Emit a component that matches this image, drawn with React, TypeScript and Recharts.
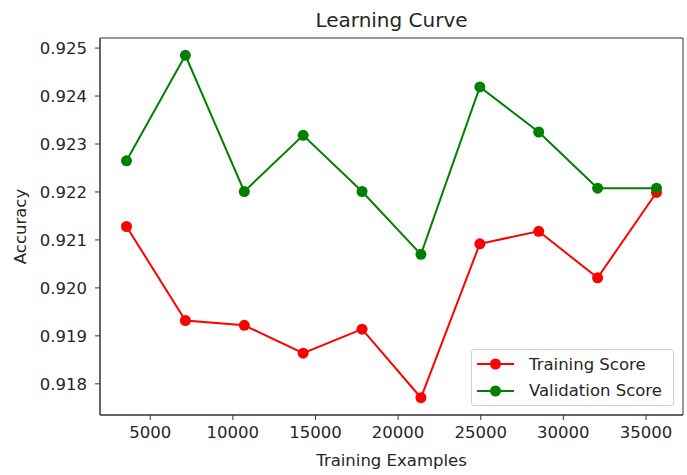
import React from "react";
import { LineChart, Line, XAxis, YAxis, Legend, ReferenceArea } from "recharts";

// training set sizes (learning_curve, 10 steps)
const trainSizes = [3564, 7127, 10691, 14254, 17818, 21381, 24945, 28508, 32072, 35635];
const trainScores = [0.92128, 0.91932, 0.91922, 0.91864, 0.91914, 0.91771, 0.92092, 0.92118, 0.92021, 0.92199];
const validScores = [0.92265, 0.92485, 0.92201, 0.92318, 0.92201, 0.9207, 0.92419, 0.92325, 0.92208, 0.92208];

const xTicks = [5000, 10000, 15000, 20000, 25000, 30000, 35000];
const yTicks = [0.918, 0.919, 0.92, 0.921, 0.922, 0.923, 0.924, 0.925];
const xDomain = [1960, 37239];
const yDomain = [0.91735, 0.92521];

const SERIES = [
  { key: "train", name: "Training Score", color: "#ff0000" },
  { key: "valid", name: "Validation Score", color: "#008000" },
];

const data = trainSizes.map((x, i) => ({ x, train: trainScores[i], valid: validScores[i] }));

const FONT = "'DejaVu Sans', sans-serif";
const TEXT = "#262626";
const AXIS = "#333";

function LegendBox() {
  return (
    <div
      style={{
        width: 203,
        height: 57,
        boxSizing: "border-box",
        border: "1px solid #d0d0d0",
        borderRadius: 3,
        background: "rgba(255,255,255,0.85)",
        padding: "1px 0 0 5px",
        fontFamily: FONT,
        fontSize: 16.5,
        color: TEXT,
      }}
    >
      {SERIES.map((s) => (
        <div key={s.key} style={{ display: "flex", alignItems: "center", height: 26.5 }}>
          <svg width={37} height={14} style={{ marginRight: 15 }}>
            <line x1={0} y1={7} x2={37} y2={7} stroke={s.color} strokeWidth={2} />
            <circle cx={18.5} cy={7} r={5.5} fill={s.color} />
          </svg>
          <span>{s.name}</span>
        </div>
      ))}
    </div>
  );
}

export default function App() {
  return (
    <div style={{ position: "absolute", left: 0, top: 0, width: 687, height: 475, background: "#fff" }}>
      <LineChart
        width={687}
        height={475}
        data={data}
        margin={{ top: 38, right: 4, bottom: 30, left: 10 }}
        style={{ fontFamily: FONT }}
      >
        <XAxis
          dataKey="x"
          type="number"
          domain={xDomain}
          ticks={xTicks}
          allowDataOverflow
          height={30}
          tickSize={5}
          tickMargin={6}
          stroke={AXIS}
          tick={{ fill: TEXT, fontSize: 16.5 }}
          label={{
            content: (p: any) => (
              <text
                x={p.viewBox.x + p.viewBox.width / 2}
                y={460}
                textAnchor="middle"
                dominantBaseline="central"
                fill={TEXT}
                fontSize={16.5}
              >
                Training Examples
              </text>
            ),
          }}
        />
        <YAxis
          type="number"
          domain={yDomain}
          ticks={yTicks}
          allowDataOverflow
          width={90}
          tickSize={5}
          tickMargin={8}
          stroke={AXIS}
          tick={{ fill: TEXT, fontSize: 16.5 }}
          tickFormatter={(v: number) => v.toFixed(3)}
          label={{
            content: (p: any) => {
              const cy = p.viewBox.y + p.viewBox.height / 2;
              return (
                <text
                  x={20}
                  y={cy}
                  transform={`rotate(-90 20 ${cy})`}
                  textAnchor="middle"
                  dominantBaseline="central"
                  fill={TEXT}
                  fontSize={16.5}
                >
                  Accuracy
                </text>
              );
            },
          }}
        />
        {/* axes frame (matplotlib spines) + title */}
        <ReferenceArea
          x1={xDomain[0]}
          x2={xDomain[1]}
          y1={yDomain[0]}
          y2={yDomain[1]}
          fill="none"
          fillOpacity={0}
          stroke={AXIS}
          strokeWidth={1}
          ifOverflow="visible"
          label={{
            content: (p: any) => (
              <text
                x={p.viewBox.x + p.viewBox.width / 2}
                y={20}
                textAnchor="middle"
                dominantBaseline="central"
                fill={TEXT}
                fontSize={20}
              >
                Learning Curve
              </text>
            ),
          }}
        />
        {SERIES.map((s) => (
          <Line
            key={s.key}
            dataKey={s.key}
            name={s.name}
            stroke={s.color}
            strokeWidth={2}
            dot={{ r: 5.5, fill: s.color, stroke: s.color, strokeWidth: 0 }}
            activeDot={false}
            isAnimationActive={false}
          />
        ))}
        <Legend
          layout="vertical"
          align="center"
          verticalAlign="middle"
          wrapperStyle={{ left: 471, top: 349, width: 203 }}
          content={() => <LegendBox />}
        />
      </LineChart>
    </div>
  );
}
